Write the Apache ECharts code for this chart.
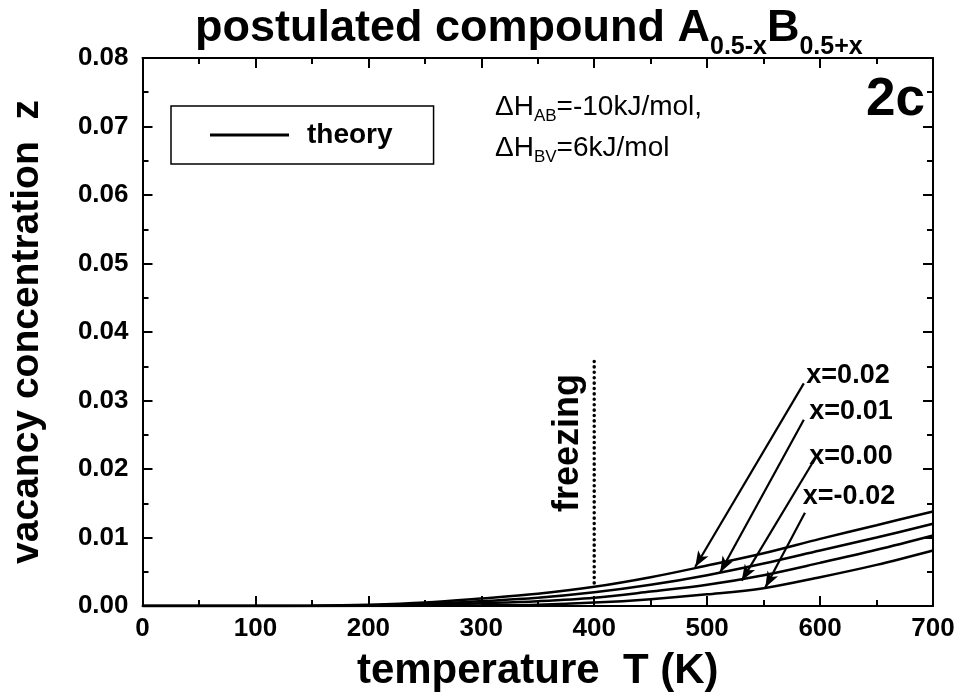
<!DOCTYPE html>
<html><head><meta charset="utf-8">
<script src="https://cdn.jsdelivr.net/npm/echarts@6/dist/echarts.min.js"></script>
<style>html,body{margin:0;padding:0;background:#fff}#c{width:967px;height:697px}</style>
</head><body><div id="c"></div>
<script>
// ---- data ----
const temps = [0, 50, 100, 150, 200, 250, 300, 350, 400, 450, 500, 550, 600, 650, 700];
const zXp002 = [0, 0, 0, 0.00003, 0.00018, 0.0005, 0.0011, 0.0018, 0.0028, 0.0042, 0.0059, 0.0077, 0.0098, 0.0118, 0.0138];
const zXp001 = [0, 0, 0, 0.00001, 0.0001, 0.0003, 0.0007, 0.0012, 0.0020, 0.0031, 0.0045, 0.0062, 0.0081, 0.0100, 0.0120];
const zX000  = [0, 0, 0, 0, 0.00004, 0.00015, 0.0004, 0.0007, 0.0012, 0.0021, 0.0031, 0.0045, 0.0063, 0.0082, 0.0103];
const zXm002 = [0, 0, 0, 0, 0, 0.00003, 0.0001, 0.0002, 0.0005, 0.0010, 0.0017, 0.0026, 0.0042, 0.0060, 0.0081];
const curveLabels = ['x=0.02', 'x=0.01', 'x=0.00', 'x=-0.02'];
const xTicks = [0, 100, 200, 300, 400, 500, 600, 700];
const yTicks = [0, 0.01, 0.02, 0.03, 0.04, 0.05, 0.06, 0.07, 0.08];
// annotation anchors (data units): arrow tails near labels, heads on curves
const arrowTails = [[585.6, 0.0325], [585.6, 0.0272], [594.4, 0.0212], [586.6, 0.0136]];
const arrowHeads = [[489.4, 0.0057], [511.5, 0.0049], [530.6, 0.0037], [551.5, 0.0027]];
const freezeT = 400;
const freezeRange = [0.0357, 0.0028];

const F = '"Liberation Sans", Arial, Helvetica, sans-serif';
const chart = echarts.init(document.getElementById('c'), null, {renderer: 'canvas'});

function curve(vals, i) {
  return {
    type: 'line', name: 'theory',
    data: temps.map((t, k) => [t, vals[k]]),
    symbol: 'none', showSymbol: false,
    smooth: 0.35,
    lineStyle: {color: '#000', width: 2.5},
    itemStyle: {color: '#000'},
    z: 3,
    markLine: {
      silent: true, animation: false,
      symbol: ['none', 'arrow'], symbolSize: [9, 16],
      label: {show: false},
      lineStyle: {color: '#000', width: 2.2, type: 'solid'},
      data: [[{coord: arrowTails[i]}, {coord: arrowHeads[i]}]]
    }
  };
}

const axisCommon = {
  type: 'value',
  axisLine: {show: true, onZero: false, lineStyle: {color: '#000', width: 2}},
  axisTick: {show: true, inside: true, length: 10, lineStyle: {color: '#000', width: 2}},
  minorTick: {show: true, splitNumber: 2, length: 6, lineStyle: {color: '#000', width: 2}},
  splitLine: {show: false}
};

const option = {
  animation: false,
  backgroundColor: '#fff',
  title: {
    text: '{m|postulated compound A}{s|0.5-x}{m|B}{s|0.5+x}',
    left: 195, top: -2, padding: 0,
    textStyle: {
      rich: {
        m: {fontSize: 45, fontWeight: 'bold', fontFamily: F, lineHeight: 62, color: '#000'},
        s: {fontSize: 25, fontWeight: 'bold', fontFamily: F, lineHeight: 10, verticalAlign: 'bottom', color: '#000'}
      }
    }
  },
  legend: {
    data: ['theory'], left: 171, top: 106, orient: 'horizontal',
    selectedMode: false,
    icon: 'rect',
    borderColor: '#000', borderWidth: 1.5, borderRadius: 0,
    padding: [15, 41, 15, 39],
    itemWidth: 79, itemHeight: 3, itemGap: 0,
    itemStyle: {color: '#000', borderWidth: 0},
    textStyle: {fontSize: 28, fontWeight: 'bold', fontFamily: F, color: '#000', padding: [0, 0, 0, 13], lineHeight: 28}
  },
  grid: {left: 141, right: 34, top: 58, bottom: 88, containLabel: false},
  xAxis: [
    Object.assign({}, axisCommon, {
      min: xTicks[0], max: xTicks[xTicks.length - 1], interval: 100, position: 'bottom',
      axisLabel: {color: '#000', fontSize: 26, fontWeight: 'bold', fontFamily: F, margin: 10},
      name: 'temperature  T (K)', nameLocation: 'middle', nameGap: 44,
      nameTextStyle: {fontSize: 42, fontWeight: 'bold', fontFamily: F, color: '#000', lineHeight: 42}
    }),
    Object.assign({}, axisCommon, {
      min: xTicks[0], max: xTicks[xTicks.length - 1], interval: 100, position: 'top',
      axisLabel: {show: false}
    })
  ],
  yAxis: [
    Object.assign({}, axisCommon, {
      min: yTicks[0], max: yTicks[yTicks.length - 1], interval: 0.01, position: 'left',
      axisLabel: {color: '#000', fontSize: 26, fontWeight: 'bold', fontFamily: F, margin: 14,
        formatter: v => v.toFixed(2)},
      name: 'vacancy concentration  z', nameLocation: 'middle', nameGap: 96,
      nameTextStyle: {fontSize: 39, fontWeight: 'bold', fontFamily: F, color: '#000', lineHeight: 38}
    }),
    Object.assign({}, axisCommon, {
      min: yTicks[0], max: yTicks[yTicks.length - 1], interval: 0.01, position: 'right',
      axisLabel: {show: false}
    })
  ],
  series: [
    curve(zXp002, 0), curve(zXp001, 1), curve(zX000, 2), curve(zXm002, 3),
    {
      type: 'line', name: 'freezing', silent: true,
      data: [[freezeT, freezeRange[0]], [freezeT, freezeRange[1]]],
      symbol: 'none',
      lineStyle: {color: '#000', width: 3.5, type: [0.1, 5.3], cap: 'round'},
      z: 2
    }
  ],
  graphic: [
    {type: 'text', x: 925, y: 100, style: {text: '2c', font: 'bold 53px ' + F, fill: '#000', align: 'right', verticalAlign: 'middle'}},
    {type: 'text', x: 495, y: 89, style: {
      text: '{n|ΔH}{s|AB}{n|=-10kJ/mol,}', fill: '#000', verticalAlign: 'top',
      rich: {n: {fontSize: 28, fontFamily: F, lineHeight: 36, fill: '#000'},
             s: {fontSize: 17, fontFamily: F, lineHeight: 10, verticalAlign: 'bottom', fill: '#000'}}}},
    {type: 'text', x: 495, y: 130, style: {
      text: '{n|ΔH}{s|BV}{n|=6kJ/mol}', fill: '#000', verticalAlign: 'top',
      rich: {n: {fontSize: 28, fontFamily: F, lineHeight: 36, fill: '#000'},
             s: {fontSize: 17, fontFamily: F, lineHeight: 10, verticalAlign: 'bottom', fill: '#000'}}}},
    {type: 'text', x: 568, y: 443, rotation: Math.PI / 2, style: {text: 'freezing', font: 'bold 36px ' + F, fill: '#000', align: 'center', verticalAlign: 'middle'}},
    {type: 'text', x: 848, y: 376, style: {text: curveLabels[0], font: 'bold 27px ' + F, fill: '#000', align: 'center', verticalAlign: 'middle'}},
    {type: 'text', x: 851, y: 412, style: {text: curveLabels[1], font: 'bold 27px ' + F, fill: '#000', align: 'center', verticalAlign: 'middle'}},
    {type: 'text', x: 851, y: 457, style: {text: curveLabels[2], font: 'bold 27px ' + F, fill: '#000', align: 'center', verticalAlign: 'middle'}},
    {type: 'text', x: 849, y: 497, style: {text: curveLabels[3], font: 'bold 27px ' + F, fill: '#000', align: 'center', verticalAlign: 'middle'}}
  ]
};
chart.setOption(option);
</script>
</body></html>
